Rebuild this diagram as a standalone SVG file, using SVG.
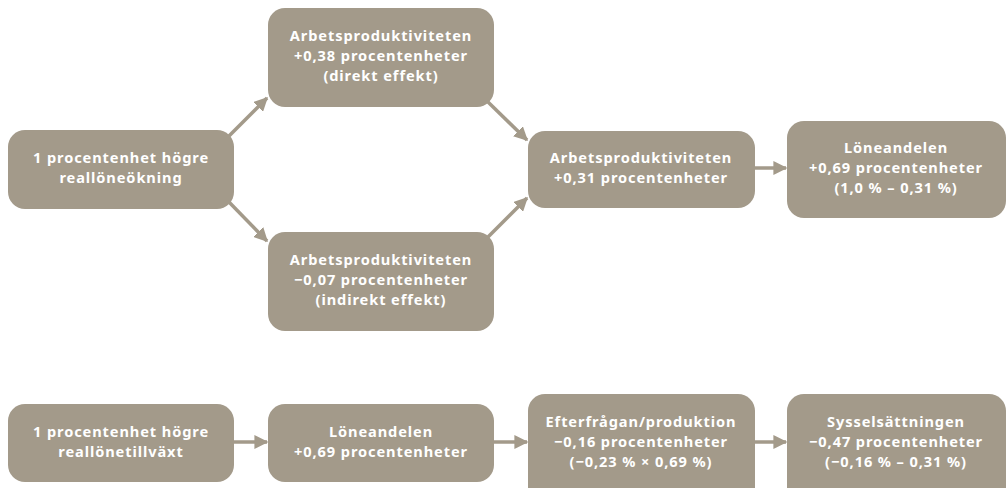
<svg xmlns="http://www.w3.org/2000/svg" width="1006" height="488" viewBox="0 0 1006 488">
<style>
.box{fill:#a39a8a}
.t{font-family:"Noto Sans","Open Sans","DejaVu Sans",sans-serif;font-weight:700;font-size:14.6px;letter-spacing:0.9px;fill:#ffffff;text-anchor:middle}
.c{stroke:#a39a8a;stroke-width:3.5;fill:none}
</style>
<defs>
<marker id="ah" viewBox="0 0 10 10" refX="9" refY="5" markerWidth="4" markerHeight="4" orient="auto" markerUnits="strokeWidth">
<path d="M0,0 L10,5 L0,10 z" fill="#a39a8a"/>
</marker>
</defs>
<g id="connectors">
<line class="c" x1="228" y1="137" x2="267" y2="98" marker-end="url(#ah)"/>
<line class="c" x1="228" y1="201" x2="267" y2="241" marker-end="url(#ah)"/>
<line class="c" x1="488" y1="102" x2="527" y2="140" marker-end="url(#ah)"/>
<line class="c" x1="488" y1="237" x2="527" y2="198" marker-end="url(#ah)"/>
<line class="c" x1="755" y1="168" x2="786" y2="168" marker-end="url(#ah)"/>
<line class="c" x1="234" y1="442" x2="267" y2="442" marker-end="url(#ah)"/>
<line class="c" x1="494" y1="442" x2="527" y2="442" marker-end="url(#ah)"/>
<line class="c" x1="755" y1="442" x2="786" y2="442" marker-end="url(#ah)"/>
</g>
<g id="n1">
<rect class="box" x="8" y="130" width="226" height="79" rx="17"/>
<text class="t" x="121" y="162.5">1 procentenhet högre</text>
<text class="t" x="121" y="182.5">reallöneökning</text>
</g>
<g id="n2">
<rect class="box" x="268" y="8" width="226" height="99" rx="17"/>
<text class="t" x="381" y="40.5">Arbetsproduktiviteten</text>
<text class="t" x="381" y="60.5">+0,38 procentenheter</text>
<text class="t" x="381" y="80.5">(direkt effekt)</text>
</g>
<g id="n3">
<rect class="box" x="268" y="232" width="226" height="99" rx="17"/>
<text class="t" x="381" y="264.5">Arbetsproduktiviteten</text>
<text class="t" x="381" y="284.5">−0,07 procentenheter</text>
<text class="t" x="381" y="304.5">(indirekt effekt)</text>
</g>
<g id="n4">
<rect class="box" x="528" y="131" width="227" height="77" rx="17"/>
<text class="t" x="641" y="163">Arbetsproduktiviteten</text>
<text class="t" x="641" y="183">+0,31 procentenheter</text>
</g>
<g id="n5">
<rect class="box" x="787" y="121" width="219" height="97" rx="17"/>
<text class="t" x="896" y="152.5">Löneandelen</text>
<text class="t" x="896" y="172.5">+0,69 procentenheter</text>
<text class="t" x="896" y="192.5">(1,0 % – 0,31 %)</text>
</g>
<g id="n6">
<rect class="box" x="8" y="404" width="226" height="78" rx="17"/>
<text class="t" x="121" y="436.5">1 procentenhet högre</text>
<text class="t" x="121" y="456.5">reallönetillväxt</text>
</g>
<g id="n7">
<rect class="box" x="268" y="404" width="226" height="78" rx="17"/>
<text class="t" x="381" y="436.5">Löneandelen</text>
<text class="t" x="381" y="456.5">+0,69 procentenheter</text>
</g>
<g id="n8">
<rect class="box" x="528" y="394" width="227" height="110" rx="17"/>
<text class="t" x="641" y="426.5">Efterfrågan/produktion</text>
<text class="t" x="641" y="446.5">−0,16 procentenheter</text>
<text class="t" x="641" y="466.5">(−0,23 % × 0,69 %)</text>
</g>
<g id="n9">
<rect class="box" x="787" y="394" width="219" height="110" rx="17"/>
<text class="t" x="896" y="426.5">Sysselsättningen</text>
<text class="t" x="896" y="446.5">−0,47 procentenheter</text>
<text class="t" x="896" y="466.5">(−0,16 % – 0,31 %)</text>
</g>
</svg>
